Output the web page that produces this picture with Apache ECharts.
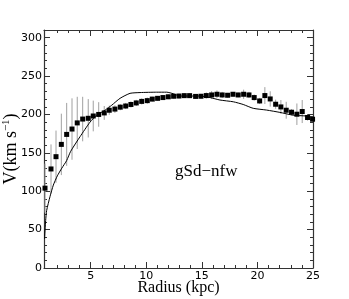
<!DOCTYPE html>
<html>
<head>
<meta charset="utf-8">
<script src="https://cdn.jsdelivr.net/npm/echarts@6/dist/echarts.min.js"></script>
<style>html,body{margin:0;padding:0;background:#fff}#c{width:349px;height:299px}</style>
</head>
<body>
<div id="c"></div>
<script>
// Observed rotation curve (radius kpc, velocity km/s, error km/s)
var obsR = [0.89,1.43,1.88,2.36,2.84,3.32,3.79,4.28,4.78,5.23,5.72,6.22,6.67,7.18,7.66,8.15,8.62,9.10,9.59,10.09,10.54,11.02,11.50,11.98,12.46,12.94,13.42,13.90,14.44,14.92,15.40,15.88,16.36,16.83,17.32,17.80,18.27,18.76,19.24,19.71,20.20,20.67,21.15,21.64,22.11,22.59,23.07,23.55,24.03,24.51,24.96];
var obsV = [104,129,145,161,174,181,189,194,195,198,200,202,205.5,207,209.5,211,213,215,217,218,220,221,222,223,223.7,224,224.5,224.5,223.5,223.7,224.6,225.4,226.3,225.4,225,226.3,225.4,226.3,225.4,222,217.6,224.6,220.2,213.3,209.8,205.5,202.9,200.3,203.8,196,193.8];
var obsE = [32,32,34,40,41,40,34,29,25,20,16,9,6,5,4,4,4,4,4,4,3,3,3,3,3,3,3,3,3,3,4,5,5,4,3,3,3,6,4,4,4,11,10,6,9,11,4,14,15,4,3];
// Model curve (nfw)
var modelR = [0.85,0.95,1.04,1.34,1.64,2.0,2.4,2.84,3.2,4.04,4.94,5.54,6.29,6.89,7.64,8.54,9.44,10.94,11.84,12.43,13.03,13.93,14.83,15.73,16.63,17.83,18.72,19.62,20.83,22.02,23.22,24.42,25];
var modelV = [38,62,75,93,108,120,130,140,152,171,190,199,205.5,212,221,227.5,228.5,229,229,227,224,224,224,222,218.8,216.5,213,208,205.7,202.7,199,198,197];
// Axis ticks
var xMajor = [5,10,15,20,25];
var xMinor = [2,3,4,6,7,8,9,11,12,13,14,16,17,18,19,21,22,23,24];
var yMajor = [0,50,100,150,200,250,300];
var yMinor = [10,20,30,40,60,70,80,90,110,120,130,140,160,170,180,190,210,220,230,240,260,270,280,290];
var label = 'gSd\u2212nfw';

var obsData = obsR.map(function(r,i){return [r, obsV[i]];});
var errData = obsR.map(function(r,i){return [r, obsV[i]-obsE[i], obsV[i]+obsE[i]];});
var modelData = modelR.map(function(r,i){return [r, modelV[i]];});

var axisCol = '#333';
function xAx(pos, ticks, len, showLabel, showLine){
  return {type:'value', position:pos, min:0.8, max:25, gridIndex:0, nameMoveOverlap:false,
    axisLine:{show:showLine, onZero:false, lineStyle:{color:axisCol,width:1.2}},
    axisTick:{show:true, inside:true, length:len, customValues:ticks, lineStyle:{color:axisCol,width:1}},
    axisLabel:{show:showLabel, customValues:xMajor, margin:3, color:'#000', fontFamily:'DejaVu Sans', fontSize:11},
    splitLine:{show:false}};
}
function yAx(pos, ticks, len, showLabel, showLine){
  return {type:'value', position:pos, min:0, max:310, gridIndex:0, nameMoveOverlap:false,
    axisLine:{show:showLine, onZero:false, lineStyle:{color:axisCol,width:1.2}},
    axisTick:{show:true, inside:true, length:len, customValues:ticks, lineStyle:{color:axisCol,width:1}},
    axisLabel:{show:showLabel, customValues:yMajor, margin:2, color:'#000', fontFamily:'DejaVu Sans', fontSize:11},
    splitLine:{show:false}};
}
var xAxes = [xAx('bottom', xMajor, 6, true, true), xAx('bottom', xMinor, 3, false, false),
             xAx('top', xMajor, 6, false, true), xAx('top', xMinor, 3, false, false)];
var yAxes = [yAx('left', yMajor, 6, true, true), yAx('left', yMinor, 3, false, false),
             yAx('right', yMajor, 6, false, true), yAx('right', yMinor, 3, false, false)];
xAxes[0].name = 'Radius (kpc)';
xAxes[0].nameLocation = 'middle';
xAxes[0].nameGap = 12;
xAxes[0].nameTextStyle = {fontFamily:'Liberation Serif', fontSize:16, color:'#000'};
yAxes[0].name = '{a|V(km s}{b|\u22121}{a|)}';
yAxes[0].nameLocation = 'middle';
yAxes[0].nameGap = 23;
yAxes[0].nameRotate = 90;
yAxes[0].nameTextStyle = {color:'#000', rich:{
  a:{fontFamily:'Liberation Serif', fontSize:18, color:'#000'},
  b:{fontFamily:'Liberation Serif', fontSize:11, color:'#000', padding:[0,0,9,0]}
}};

var chart = echarts.init(document.getElementById('c'), null, {renderer:'canvas'});
chart.setOption({
  animation:false,
  backgroundColor:'#fff',
  grid:{left:44, right:36, top:30, bottom:31, containLabel:false, outerBoundsMode:'none'},
  xAxis:xAxes,
  yAxis:yAxes,
  graphic:[{type:'text', left:175, top:163, style:{text:label, fontFamily:'Liberation Serif', fontSize:17, fill:'#000'}}],
  series:[
    {type:'custom', xAxisIndex:0, yAxisIndex:0, data:errData, z:2,
     renderItem:function(params, api){
       var p1 = api.coord([api.value(0), api.value(1)]);
       var p2 = api.coord([api.value(0), api.value(2)]);
       return {type:'line', shape:{x1:p1[0], y1:p1[1], x2:p2[0], y2:p2[1]},
               style:{stroke:'#a0a0a0', lineWidth:1}};
     }},
    {type:'line', xAxisIndex:0, yAxisIndex:0, data:modelData, showSymbol:false, smooth:0.2, z:3,
     lineStyle:{color:'#000', width:1}},
    {type:'scatter', xAxisIndex:0, yAxisIndex:0, data:obsData, symbol:'rect', symbolSize:5, z:4,
     itemStyle:{color:'#000', opacity:1}}
  ]
});
</script>
</body>
</html>
